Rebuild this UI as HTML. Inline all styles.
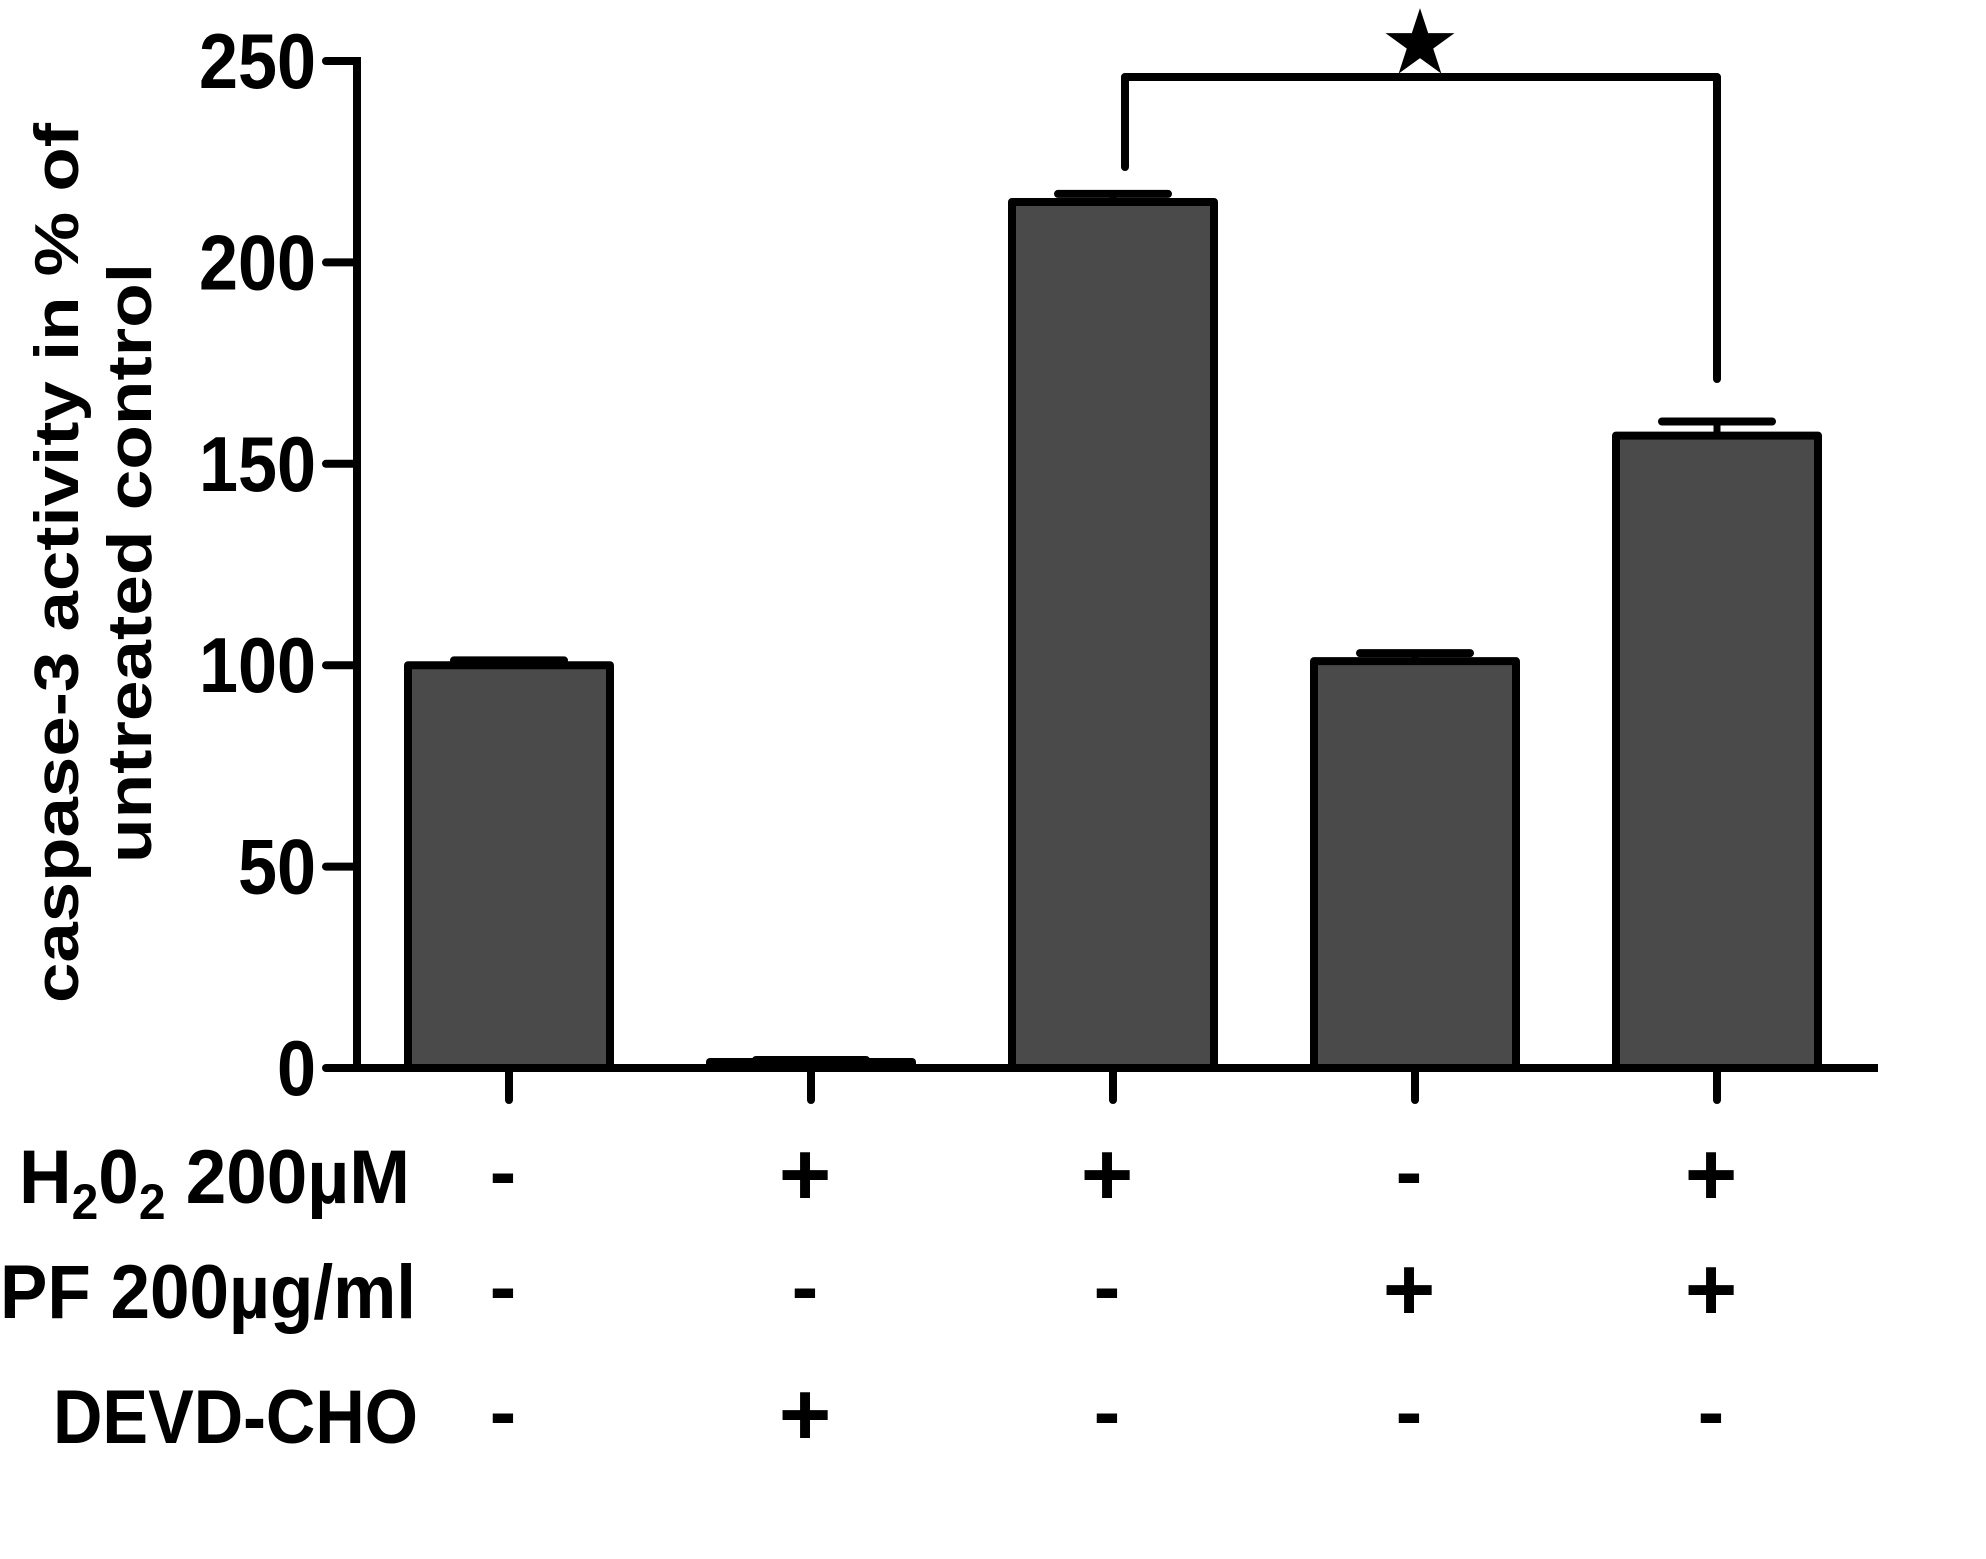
<!DOCTYPE html>
<html><head><meta charset="utf-8"><style>
html,body{margin:0;padding:0;background:#fff;width:1986px;height:1559px;overflow:hidden}
svg{display:block}
text{font-family:"Liberation Sans",Arial,sans-serif;font-weight:bold;fill:#000}
</style></head><body>
<svg id="chart" width="1986" height="1559" viewBox="0 0 1986 1559" xmlns="http://www.w3.org/2000/svg">
<g id="g"></g>
</svg>
<script>
const categories = ["ctrl","H2O2+DEVD","H2O2","PF","H2O2+PF"];
const values = [100, 1.5, 215, 101, 157];
const errors = [1.2, 0.5, 2, 2, 3.5];
const yTicks = [0, 50, 100, 150, 200, 250];
const rowLabels = ["H202 200µM","PF 200µg/ml","DEVD-CHO"];
const h2o2Signs = ["-","+","+","-","+"];
const pfSigns = ["-","-","-","+","+"];
const devdSigns = ["-","+","-","-","-"];

const NS="http://www.w3.org/2000/svg";
const g=document.getElementById('g');
const y0=1068, yTop=61, axisX=357, xEnd=1878;
function yScale(v){return y0-(v/250)*(y0-yTop);}
const step=302, firstC=509;
function xScale(i){return firstC+i*step;}
const barW=202;
function mk(tag,attrs){const e=document.createElementNS(NS,tag);for(const k in attrs)e.setAttribute(k,attrs[k]);g.appendChild(e);return e;}

values.forEach((v,i)=>{
  const cx=xScale(i);
  const e=errors[i];
  const cap=mk('line',{x1:cx-55,x2:cx+55,y1:yScale(v+e),y2:yScale(v+e),stroke:'#000','stroke-width':8,'stroke-linecap':'round'});
  
  
  const st=mk('line',{x1:cx,x2:cx,y1:yScale(v+e),y2:yScale(v),stroke:'#000','stroke-width':7});
  
  
  const r=mk('rect',{x:cx-barW/2,y:yScale(v),width:barW,height:y0-yScale(v),fill:'#4a4a4a',stroke:'#000','stroke-width':8,'stroke-linejoin':'round'});
  
  
  const t=mk('line',{x1:cx,x2:cx,y1:y0,y2:1100,stroke:'#000','stroke-width':8,'stroke-linecap':'round'});
  
  
});

const ya=mk('line',{x1:axisX,x2:axisX,y1:yTop-4,y2:y0+4,stroke:'#000','stroke-width':8});


const xa=mk('line',{x1:axisX-4,x2:xEnd,y1:y0,y2:y0,stroke:'#000','stroke-width':8});



yTicks.forEach(v=>{
  const y=yScale(v);
  const l=mk('line',{x1:326,x2:axisX,y1:y,y2:y,stroke:'#000','stroke-width':8,'stroke-linecap':'round'});
  
  
  const s=String(v);
  const t=mk('text',{x:316,y:y+27,'text-anchor':'end','font-size':78,textLength:s.length*39,lengthAdjust:'spacingAndGlyphs'});
  t.textContent=s;
  
  
});

const t1=mk('text',{transform:'translate(78,563) rotate(-90)','text-anchor':'middle','font-size':62,textLength:880,lengthAdjust:'spacingAndGlyphs'});
t1.textContent='caspase-3 activity in % of';


const t2=mk('text',{transform:'translate(151,563) rotate(-90)','text-anchor':'middle','font-size':62,textLength:600,lengthAdjust:'spacingAndGlyphs'});
t2.textContent='untreated control';



const br=mk('polyline',{points:`${xScale(2)+12},167 ${xScale(2)+12},77 ${xScale(4)},77 ${xScale(4)},379`,fill:'none',stroke:'#000','stroke-width':8,'stroke-linecap':'round','stroke-linejoin':'round'});


const star=mk('text',{x:1420,y:70,'text-anchor':'middle','font-size':80,'font-family':'DejaVu Sans'});
star.textContent='★';



const rowY=[1203,1318,1443];
const rowSigns=[h2o2Signs,pfSigns,devdSigns];
const labelSpans=[[19,410],[0,416],[53,418]];
rowLabels.forEach((lab,r)=>{
  const [a,b]=labelSpans[r];
  let t=mk('text',{x:a,y:rowY[r],'font-size':76,textLength:b-a,lengthAdjust:'spacingAndGlyphs'});
  if(r===0){
    t.innerHTML='H<tspan font-size="50" dy="16">2</tspan><tspan dy="-16">0</tspan><tspan font-size="50" dy="16">2</tspan><tspan dy="-16"> 200µM</tspan>';
  } else {
    t.textContent=lab;
  }
  
  
  rowSigns[r].forEach((s,i)=>{
    const cx=xScale(i)-6;
    const st=mk('text',{x:cx,y:rowY[r]-(s==='+'?-2:4),'text-anchor':'middle','font-size':s==='+'?90:80});
    st.textContent=s;
    
    
  });
});
</script>
</body></html>
